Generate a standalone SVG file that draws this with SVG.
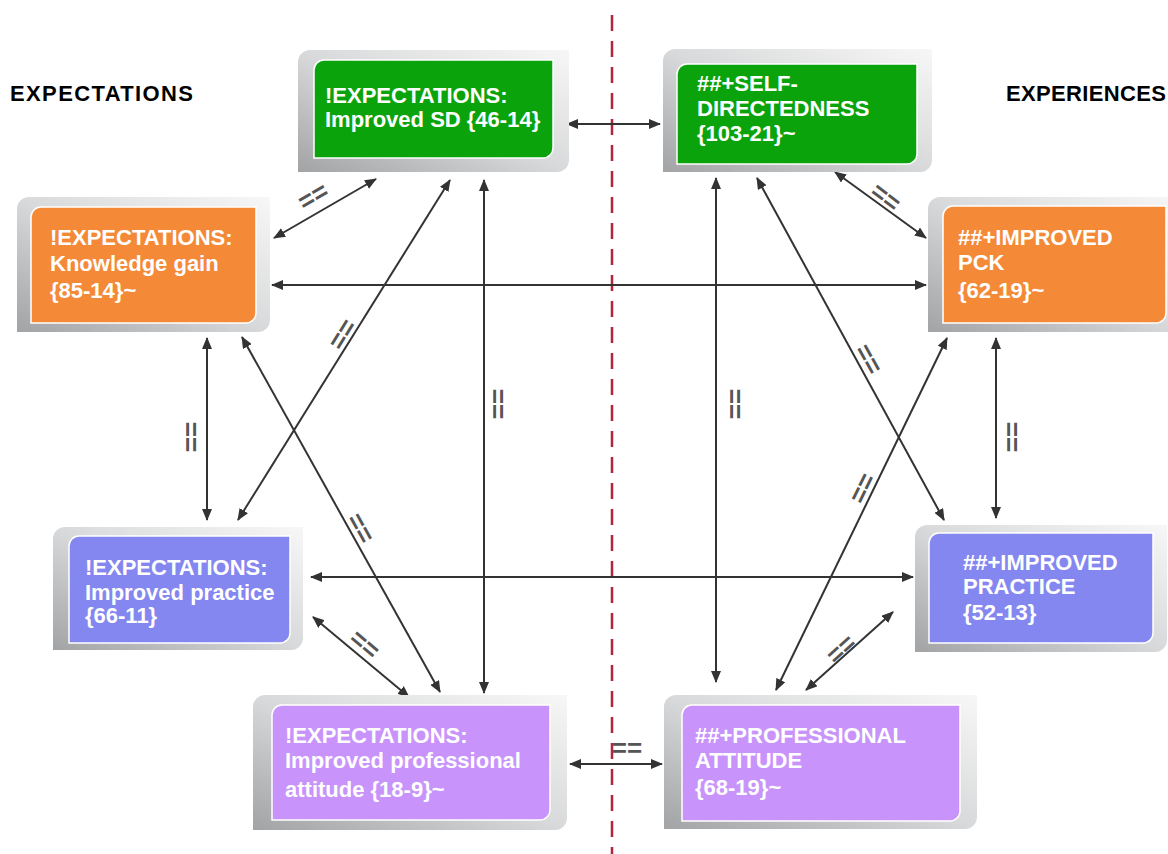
<svg xmlns="http://www.w3.org/2000/svg" width="1168" height="854" viewBox="0 0 1168 854">
<style>
.frame{fill:url(#fg)}
.inner{stroke:#ffffff;stroke-width:1.5}
.nt{font-family:"Liberation Sans",Arial,sans-serif;font-weight:bold;font-size:22px;fill:#ffffff}
.hd{font-family:"Liberation Sans",Arial,sans-serif;font-weight:bold;font-size:22px;fill:#000000}
.cn{stroke:#333333;stroke-width:2;fill:none;marker-start:url(#ah);marker-end:url(#ah)}
.lb{font-family:"Liberation Sans",Arial,sans-serif;font-size:26px;font-weight:bold;fill:#555555;text-anchor:middle;dominant-baseline:central}
.green{fill:#0aa30c}
.orange{fill:#f48938}
.blue{fill:#8487ef}
.purple{fill:#c894fb}
</style>
<defs>
<linearGradient id="fg" x1="1" y1="0" x2="0" y2="1">
<stop offset="0" stop-color="#f7f7f7"/>
<stop offset="0.5" stop-color="#d8d9da"/>
<stop offset="1" stop-color="#a2a3a5"/>
</linearGradient>
<marker id="ah" viewBox="0 0 12 10" refX="11" refY="5" markerWidth="12" markerHeight="10" markerUnits="userSpaceOnUse" orient="auto-start-reverse">
<path d="M0,0 L12,5 L0,10 Z" fill="#333333"/>
</marker>
</defs>
<rect width="1168" height="854" fill="#ffffff"/>

<line x1="612" y1="15" x2="612" y2="854" stroke="#b3243d" stroke-width="2.5" stroke-dasharray="16 10"/>

<text class="hd" x="10" y="101" textLength="183">EXPECTATIONS</text>
<text class="hd" x="1006" y="101" textLength="160">EXPERIENCES</text>

<g id="connectors">
<line class="cn" x1="567" y1="124" x2="660" y2="124"/>
<line class="cn" x1="376" y1="179" x2="274" y2="238"/>
<line class="cn" x1="272" y1="285" x2="926" y2="285"/>
<line class="cn" x1="450" y1="180" x2="238" y2="520"/>
<line class="cn" x1="484" y1="180" x2="484" y2="693"/>
<line class="cn" x1="207" y1="338" x2="207" y2="520"/>
<line class="cn" x1="242" y1="337" x2="440" y2="692"/>
<line class="cn" x1="311" y1="577" x2="913" y2="577"/>
<line class="cn" x1="313" y1="617" x2="409" y2="697"/>
<line class="cn" x1="570" y1="764" x2="662" y2="764"/>
<line class="cn" x1="716" y1="178" x2="716" y2="682"/>
<line class="cn" x1="757" y1="178" x2="944" y2="520"/>
<line class="cn" x1="835" y1="172" x2="926" y2="238"/>
<line class="cn" x1="947" y1="338" x2="776" y2="690"/>
<line class="cn" x1="996" y1="338" x2="996" y2="518"/>
<line class="cn" x1="893" y1="612" x2="806" y2="690"/>
<text class="lb" transform="translate(313,196) rotate(-30)">==</text>
<text class="lb" transform="translate(342,334) rotate(-58)">==</text>
<text class="lb" transform="translate(498,404) rotate(90)">==</text>
<text class="lb" transform="translate(191,437) rotate(90)">==</text>
<text class="lb" transform="translate(361,528) rotate(61)">==</text>
<text class="lb" transform="translate(365,644) rotate(40)">==</text>
<text class="lb" transform="translate(627,748)">==</text>
<text class="lb" transform="translate(735,404) rotate(90)">==</text>
<text class="lb" transform="translate(869,359) rotate(61)">==</text>
<text class="lb" transform="translate(886,197) rotate(37)">==</text>
<text class="lb" transform="translate(862,488) rotate(-64)">==</text>
<text class="lb" transform="translate(1012,437) rotate(90)">==</text>
<text class="lb" transform="translate(841,649) rotate(-42)">==</text>
</g>

<g id="n1">
<path class="frame" d="M310,50 H569 V160 A12,12 0 0 1 557,172 H298 V62 A12,12 0 0 1 310,50 Z"/>
<path class="inner green" d="M324,60 H553 V148 A10,10 0 0 1 543,158 H314 V70 A10,10 0 0 1 324,60 Z"/>
<text class="nt" x="325" y="103">!EXPECTATIONS:</text>
<text class="nt" x="325" y="127">Improved SD {46-14}</text>
</g>

<g id="n2">
<path class="frame" d="M675,49 H932 V160 A12,12 0 0 1 920,172 H663 V61 A12,12 0 0 1 675,49 Z"/>
<path class="inner green" d="M687,64 H917 V154 A10,10 0 0 1 907,164 H677 V74 A10,10 0 0 1 687,64 Z"/>
<text class="nt" x="697" y="91">##+SELF-</text>
<text class="nt" x="697" y="116">DIRECTEDNESS</text>
<text class="nt" x="697" y="141">{103-21}~</text>
</g>

<g id="n3">
<path class="frame" d="M29,197 H270 V320 A12,12 0 0 1 258,332 H17 V209 A12,12 0 0 1 29,197 Z"/>
<path class="inner orange" d="M41,207 H256 V313 A10,10 0 0 1 246,323 H31 V217 A10,10 0 0 1 41,207 Z"/>
<text class="nt" x="50" y="245">!EXPECTATIONS:</text>
<text class="nt" x="50" y="271">Knowledge gain</text>
<text class="nt" x="50" y="298">{85-14}~</text>
</g>

<g id="n4">
<path class="frame" d="M940,197 H1180 V320 A12,12 0 0 1 1168,332 H928 V209 A12,12 0 0 1 940,197 Z"/>
<path class="inner orange" d="M953,206 H1166 V313 A10,10 0 0 1 1156,323 H943 V216 A10,10 0 0 1 953,206 Z"/>
<text class="nt" x="958" y="245">##+IMPROVED</text>
<text class="nt" x="958" y="270">PCK</text>
<text class="nt" x="958" y="298">{62-19}~</text>
</g>

<g id="n5">
<path class="frame" d="M65,527 H303 V638 A12,12 0 0 1 291,650 H53 V539 A12,12 0 0 1 65,527 Z"/>
<path class="inner blue" d="M79,536 H290 V633 A10,10 0 0 1 280,643 H69 V546 A10,10 0 0 1 79,536 Z"/>
<text class="nt" x="85" y="575">!EXPECTATIONS:</text>
<text class="nt" x="85" y="600">Improved practice</text>
<text class="nt" x="85" y="623">{66-11}</text>
</g>

<g id="n6">
<path class="frame" d="M927,525 H1167 V640 A12,12 0 0 1 1155,652 H915 V537 A12,12 0 0 1 927,525 Z"/>
<path class="inner blue" d="M939,533 H1153 V633 A10,10 0 0 1 1143,643 H929 V543 A10,10 0 0 1 939,533 Z"/>
<text class="nt" x="963" y="570">##+IMPROVED</text>
<text class="nt" x="963" y="594">PRACTICE</text>
<text class="nt" x="963" y="620">{52-13}</text>
</g>

<g id="n7">
<path class="frame" d="M265,695 H567 V818 A12,12 0 0 1 555,830 H253 V707 A12,12 0 0 1 265,695 Z"/>
<path class="inner purple" d="M282,705 H550 V810 A10,10 0 0 1 540,820 H272 V715 A10,10 0 0 1 282,705 Z"/>
<text class="nt" x="285" y="743">!EXPECTATIONS:</text>
<text class="nt" x="285" y="768">Improved professional</text>
<text class="nt" x="285" y="797">attitude {18-9}~</text>
</g>

<g id="n8">
<path class="frame" d="M676,695 H977 V817 A12,12 0 0 1 965,829 H664 V707 A12,12 0 0 1 676,695 Z"/>
<path class="inner purple" d="M692,705 H960 V811 A10,10 0 0 1 950,821 H682 V715 A10,10 0 0 1 692,705 Z"/>
<text class="nt" x="695" y="743">##+PROFESSIONAL</text>
<text class="nt" x="695" y="768">ATTITUDE</text>
<text class="nt" x="695" y="795">{68-19}~</text>
</g>
</svg>
